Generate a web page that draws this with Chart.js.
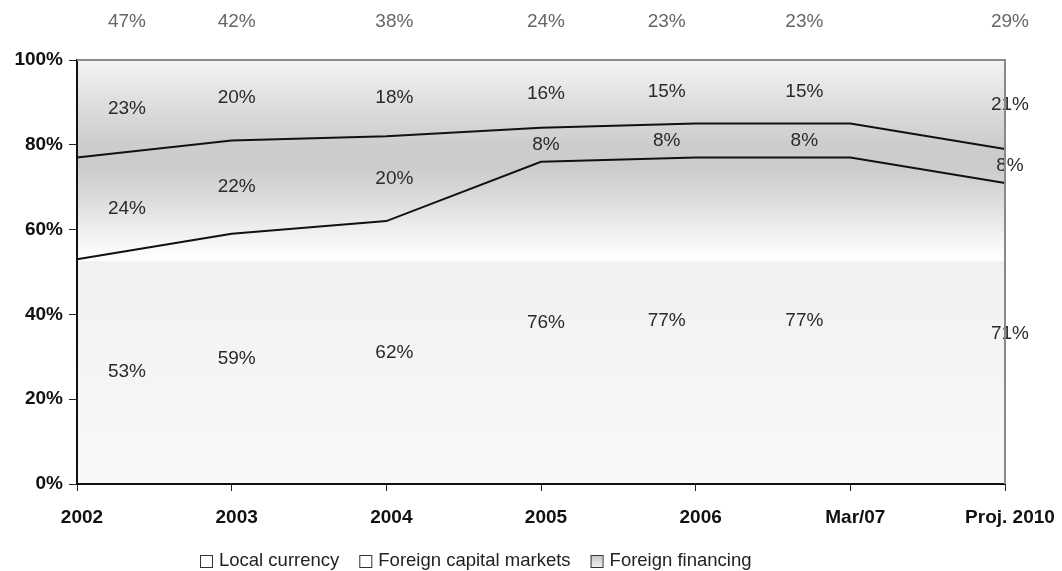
<!DOCTYPE html>
<html>
<head>
<meta charset="utf-8">
<script src="https://cdn.jsdelivr.net/npm/chart.js@4.4.0/dist/chart.umd.min.js"></script>
<style>
  html, body { margin: 0; padding: 0; background: #fff; }
  #wrap { width: 1062px; height: 571px; }
</style>
</head>
<body>
<div id="wrap"><canvas id="funding"></canvas></div>
<script>
/* Funding mix by source, share of total (%) */
var periods = ['2002', '2003', '2004', '2005', '2006', 'Mar/07', 'Proj. 2010'];
var local_currency = [53, 59, 62, 76, 77, 77, 71];
var foreign_capital_markets = [24, 22, 20, 8, 8, 8, 8];
var foreign_financing = [23, 20, 18, 16, 15, 15, 21];
var y_ticks = [0, 20, 40, 60, 80, 100];
var legend_names = ['Local currency', 'Foreign capital markets', 'Foreign financing'];

/* sideways nudge of the value labels in each column */
var label_shift = [50, 5, 8, 5, -29, -46, 5];

const label_font = '19px "Liberation Sans", Arial, sans-serif';

/* shaded plot background */
const plotShade = {
  id: 'plotShade',
  beforeDraw(chart) {
    const a = chart.chartArea, c = chart.ctx;
    const g = c.createLinearGradient(0, a.top, 0, a.bottom);
    g.addColorStop(0, '#f4f4f4');
    g.addColorStop(0.1, '#dedede');
    g.addColorStop(0.2, '#cdcdcd');
    g.addColorStop(0.25, '#cbcbcb');
    g.addColorStop(0.33, '#dcdcdc');
    g.addColorStop(0.43, '#f6f6f6');
    g.addColorStop(0.472, '#ffffff');
    g.addColorStop(0.476, '#f1f1f1');
    g.addColorStop(1, '#f9f9f9');
    c.save();
    c.fillStyle = g;
    c.fillRect(a.left, a.top, a.right - a.left, a.bottom - a.top);
    c.restore();
  }
};

/* values in the middle of each band, totals of foreign sources above the plot */
const bandLabels = {
  id: 'bandLabels',
  afterDatasetsDraw(chart) {
    const c = chart.ctx, x = chart.scales.x, y = chart.scales.y;
    const series = [local_currency, foreign_capital_markets, foreign_financing];
    c.save();
    c.font = label_font;
    c.textAlign = 'center';
    c.textBaseline = 'middle';
    periods.forEach(function (p, j) {
      const px = x.getPixelForValue(j) + label_shift[j];
      let base = 0;
      c.fillStyle = '#2a2a2a';
      series.forEach(function (s) {
        const mid = base + s[j] / 2;
        c.fillText(s[j] + '%', px, y.getPixelForValue(mid));
        base += s[j];
      });
      c.fillStyle = '#666666';
      c.fillText((foreign_capital_markets[j] + foreign_financing[j]) + '%', px, chart.chartArea.top - 38);
    });
    c.restore();
  }
};

/* top and right frame plus the legend row */
const frameAndLegend = {
  id: 'frameAndLegend',
  afterDraw(chart) {
    const a = chart.chartArea, c = chart.ctx;
    c.save();
    c.strokeStyle = '#8a8a8a';
    c.lineWidth = 2;
    c.beginPath();
    c.moveTo(a.left, a.top);
    c.lineTo(a.right, a.top);
    c.lineTo(a.right, a.bottom);
    c.stroke();

    c.font = '18.5px "Liberation Sans", Arial, sans-serif';
    c.textBaseline = 'middle';
    c.textAlign = 'left';
    let lx = 200;
    const ly = 561;
    legend_names.forEach(function (name, i) {
      if (i === 2) {
        const g = c.createLinearGradient(0, ly - 6, 0, ly + 7);
        g.addColorStop(0, '#c4c4c4');
        g.addColorStop(1, '#f2f2f2');
        c.fillStyle = g;
      } else {
        c.fillStyle = '#ffffff';
      }
      c.fillRect(lx, ly - 6, 12, 12);
      c.strokeStyle = '#333333';
      c.lineWidth = 1;
      c.strokeRect(lx + 0.5, ly - 5.5, 12, 12);
      c.fillStyle = '#222222';
      c.fillText(name, lx + 19, ly);
      lx += 19 + c.measureText(name).width + 20;
    });
    c.restore();
  }
};

const lineStyle = {
  fill: false,
  borderColor: '#111111',
  borderWidth: 2,
  pointRadius: 0,
  tension: 0
};

new Chart(document.getElementById('funding'), {
  type: 'line',
  data: {
    labels: periods,
    datasets: [
      Object.assign({ label: legend_names[0], data: local_currency }, lineStyle),
      Object.assign({ label: legend_names[1], data: foreign_capital_markets }, lineStyle),
      Object.assign({ label: legend_names[2], data: foreign_financing }, lineStyle, { borderWidth: 0 })
    ]
  },
  options: {
    responsive: true,
    maintainAspectRatio: false,
    animation: false,
    events: [],
    layout: { padding: { top: 60, right: 57, left: 0, bottom: 0 } },
    plugins: { legend: { display: false }, tooltip: { enabled: false } },
    scales: {
      x: {
        offset: false,
        grid: { drawOnChartArea: false, drawTicks: true, tickLength: 7, color: '#222' },
        border: { display: true, color: '#111', width: 2 },
        ticks: {
          font: { family: '"Liberation Sans", Arial, sans-serif', size: 19, weight: 'bold' },
          color: '#111',
          labelOffset: 5,
          padding: 15,
          maxRotation: 0,
          autoSkip: false
        },
        afterFit: function (s) {
          s.height = 87;
          s.paddingLeft = 0;
          s.paddingRight = 0;
        }
      },
      y: {
        stacked: true,
        min: 0,
        max: 100,
        afterBuildTicks: function (s) { s.ticks = y_ticks.map(function (v) { return { value: v }; }); },
        grid: { drawOnChartArea: false, drawTicks: true, tickLength: 8, color: '#222' },
        border: { display: true, color: '#111', width: 2 },
        ticks: {
          font: { family: '"Liberation Sans", Arial, sans-serif', size: 19, weight: 'bold' },
          color: '#111',
          padding: 6,
          callback: function (v) { return v + '%'; }
        },
        afterFit: function (s) { s.width = 77; }
      }
    }
  },
  plugins: [plotShade, bandLabels, frameAndLegend]
});
</script>
</body>
</html>
